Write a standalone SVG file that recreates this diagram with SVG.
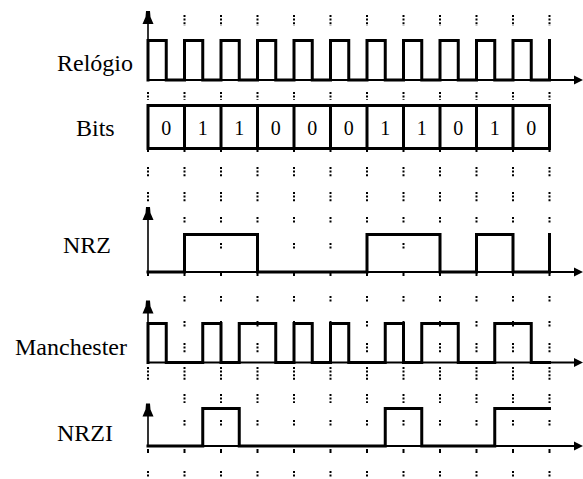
<svg xmlns="http://www.w3.org/2000/svg" xmlns:xlink="http://www.w3.org/1999/xlink" width="583" height="479" viewBox="0 0 583 479">
<style>
.lbl{font-family:"Liberation Serif","Times New Roman",serif;font-size:24px;fill:#000}
.dig{font-family:"Liberation Serif","Times New Roman",serif;font-size:20px;fill:#000;text-anchor:middle}
.wave{fill:none;stroke:#000;stroke-width:3;stroke-linejoin:miter;stroke-linecap:square}
.axis{fill:none;stroke:#000;stroke-width:1.6}
.haxis{fill:none;stroke:#000;stroke-width:2}
.dot{fill:none;stroke:#000;stroke-width:2;stroke-dasharray:2 1.6}
.tick{fill:none;stroke:#000;stroke-width:2}
.head{fill:#000;stroke:none}
</style>
<defs>
<path id="ua" d="M-2 0H2L2.5 6L5.5 13H-5.5L-2.5 6Z"/>
<path id="ra" d="M0 0L-9 -4.5L-9 4.5Z"/>
<g id="col">
<path class="dot" d="M0 15V26M0 92V100M0 167V177M0 192V202M0 217V223M0 296V302M0 321V328M0 343V353M0 367V380M0 394V403M0 420V427M0 471V478"/>
<path class="tick" d="M0 148V152M0 273V276M0 449V453"/>
</g>
<g id="col0">
<path class="dot" d="M0 92V100M0 167V177M0 192V202M0 367V380M0 471V478"/>
<path class="tick" d="M0 148V152M0 273V276M0 449V453"/>
</g>
<path id="mF" class="dot" d="M0 243V250"/>
</defs>

<g id="grid">
<use xlink:href="#col0" x="148"/>
<use xlink:href="#col" x="184.5"/>
<use xlink:href="#col" x="221"/>
<use xlink:href="#col" x="257.5"/>
<use xlink:href="#col" x="294"/>
<use xlink:href="#col" x="330.5"/>
<use xlink:href="#col" x="367"/>
<use xlink:href="#col" x="403.5"/>
<use xlink:href="#col" x="440"/>
<use xlink:href="#col" x="476.5"/>
<use xlink:href="#col" x="513"/>
<use xlink:href="#col" x="549.5"/>
<use xlink:href="#mF" x="221"/>
<use xlink:href="#mF" x="294"/>
<use xlink:href="#mF" x="330.5"/>
<use xlink:href="#mF" x="403.5"/>
</g>

<g id="clock">
<text class="lbl" x="57" y="71">Relógio</text>
<path class="axis" d="M148 14V80"/>
<use class="head" xlink:href="#ua" x="148" y="11"/>
<path class="haxis" d="M148 80H576"/>
<use class="head" xlink:href="#ra" x="583" y="80"/>
<path class="wave" d="M148 80V40.5H166.25V80H184.5V40.5H202.75V80H221V40.5H239.25V80H257.5V40.5H275.75V80H294V40.5H312.25V80H330.5V40.5H348.75V80H367V40.5H385.25V80H403.5V40.5H421.75V80H440V40.5H458.25V80H476.5V40.5H494.75V80H513V40.5H531.25V80H549.5V40.5"/>
</g>

<g id="bits">
<text class="lbl" x="76" y="136">Bits</text>
<path class="wave" d="M148 105.5H549.5V148.5H148Z"/>
<path class="wave" d="M184.5 105.5V148.5M221 105.5V148.5M257.5 105.5V148.5M294 105.5V148.5M330.5 105.5V148.5M367 105.5V148.5M403.5 105.5V148.5M440 105.5V148.5M476.5 105.5V148.5M513 105.5V148.5"/>
<text class="dig" x="166.25" y="135">0</text>
<text class="dig" x="202.75" y="135">1</text>
<text class="dig" x="239.25" y="135">1</text>
<text class="dig" x="275.75" y="135">0</text>
<text class="dig" x="312.25" y="135">0</text>
<text class="dig" x="348.75" y="135">0</text>
<text class="dig" x="385.25" y="135">1</text>
<text class="dig" x="421.75" y="135">1</text>
<text class="dig" x="458.25" y="135">0</text>
<text class="dig" x="494.75" y="135">1</text>
<text class="dig" x="531.25" y="135">0</text>
</g>

<g id="nrz">
<text class="lbl" x="63" y="253">NRZ</text>
<path class="axis" d="M148 210V272"/>
<use class="head" xlink:href="#ua" x="148" y="207"/>
<path class="haxis" d="M148 272H576"/>
<use class="head" xlink:href="#ra" x="583" y="272"/>
<path class="wave" d="M148 272H184.5V234.5H257.5V272H367V234.5H440V272H476.5V234.5H513V272H549.5V234.5"/>
</g>

<g id="manchester">
<text class="lbl" x="15" y="355">Manchester</text>
<path class="axis" d="M148 304V362.5"/>
<use class="head" xlink:href="#ua" x="148" y="300.5"/>
<path class="haxis" d="M148 362.5H576"/>
<use class="head" xlink:href="#ra" x="583" y="362.5"/>
<path class="wave" d="M148 362.5V323.5H166.25V362.5H202.75V323.5H221V362.5H239.25V323.5H275.75V362.5H294V323.5H312.25V362.5H330.5V323.5H348.75V362.5H385.25V323.5H403.5V362.5H421.75V323.5H458.25V362.5H494.75V323.5H531.25V362.5H549.5"/>
</g>

<g id="nrzi">
<text class="lbl" x="57" y="441">NRZI</text>
<path class="axis" d="M148 407V446"/>
<use class="head" xlink:href="#ua" x="148" y="403.5"/>
<path class="haxis" d="M148 446H576"/>
<use class="head" xlink:href="#ra" x="583" y="446"/>
<path class="wave" d="M148 446H202.75V408.5H239.25V446H385.25V408.5H421.75V446H494.75V408.5H549.5"/>
</g>
</svg>
